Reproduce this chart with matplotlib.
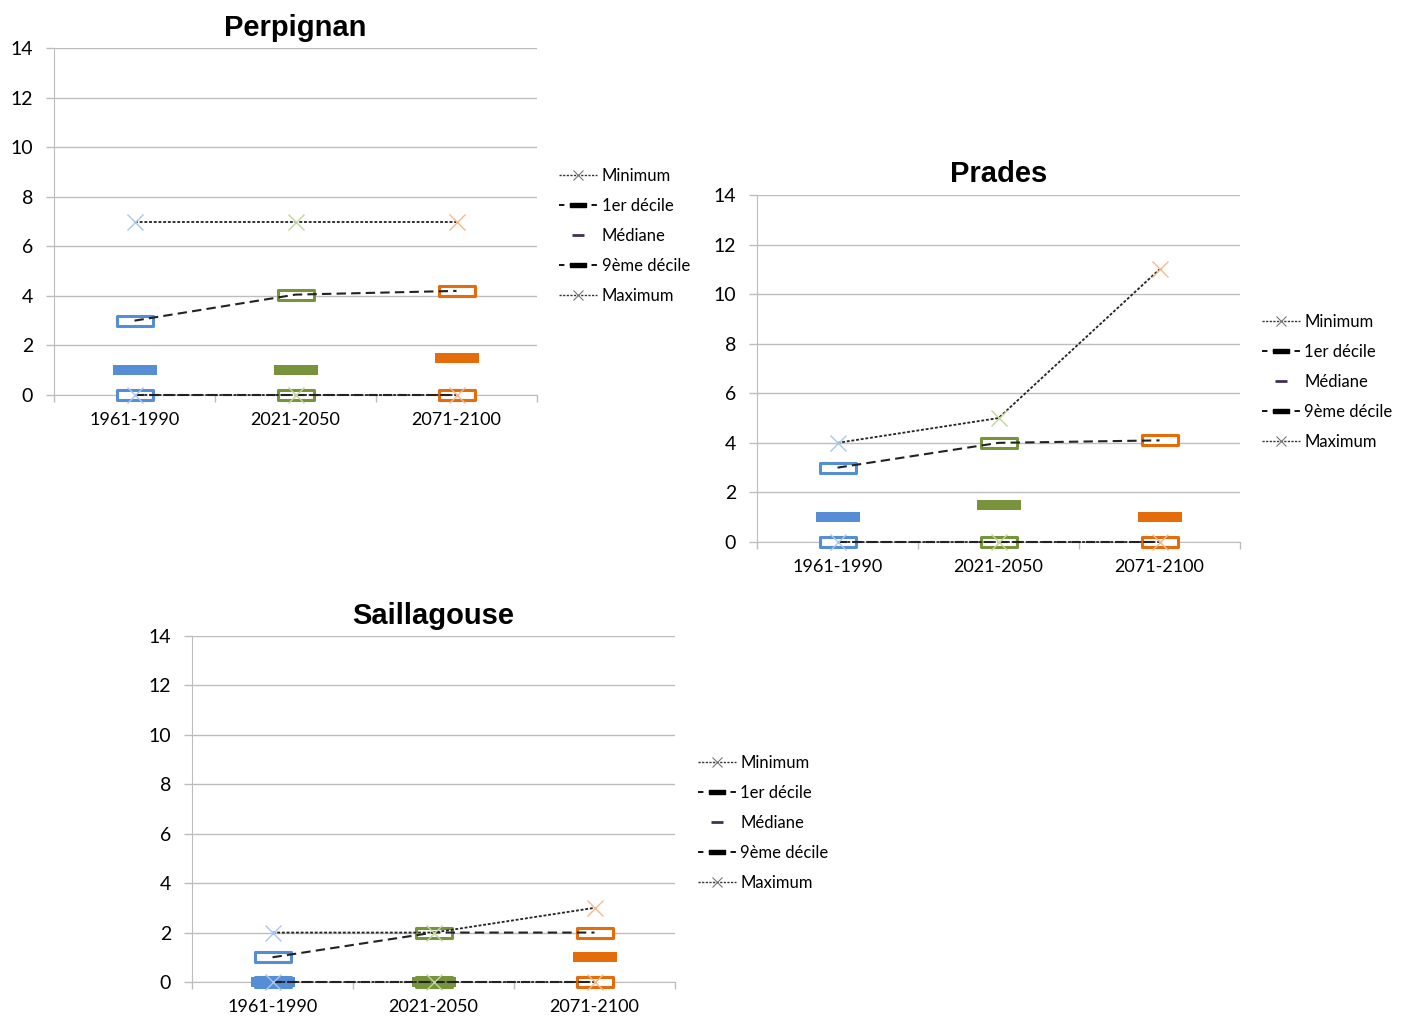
import numpy as np
from matplotlib import pyplot as plt
from matplotlib.path import Path
from matplotlib.lines import Line2D

periods = ["1961-1990", "2021-2050", "2071-2100"]

perpignan_min = [0, 0, 0]
perpignan_d1 = [0, 0, 0]
perpignan_med = [1, 1, 1.5]
perpignan_d9 = [3, 4.05, 4.2]
perpignan_max = [7, 7, 7]

prades_min = [0, 0, 0]
prades_d1 = [0, 0, 0]
prades_med = [1, 1.5, 1]
prades_d9 = [3, 4, 4.1]
prades_max = [4, 5, 11]

saillagouse_min = [0, 0, 0]
saillagouse_d1 = [0, 0, 0]
saillagouse_med = [0, 0, 1]
saillagouse_d9 = [1, 2, 2]
saillagouse_max = [2, 2, 3]

yticks = [0, 2, 4, 6, 8, 10, 12, 14]
legend_labels = ["Minimum", "1er décile", "Médiane", "9ème décile", "Maximum"]

COLORS = ["#558ED5", "#77933C", "#E46C0A"]
LIGHT = ["#A9C7EE", "#C3D69B", "#F7B98B"]
GRID = "#BDBDBD"
FONT = "Lato"

W, H = 1406, 1019


def rect(ratio):
    return Path([(-1, -ratio), (1, -ratio), (1, ratio), (-1, ratio), (-1, -ratio)],
                [Path.MOVETO, Path.LINETO, Path.LINETO, Path.LINETO, Path.CLOSEPOLY])


BOX = rect(0.25)
BAR = rect(0.21)

DOT = (0, (1.6, 1.0))
DASH = (0, (4.5, 2.5))


def hollow(ax, i, y, z):
    ax.plot(i, y, marker=BOX, ms=26.5, mfc="white", mec=COLORS[i], mew=2.2,
            ls="none", zorder=z, clip_on=False)


def panel(fig, box, title, mn, d1, med, d9, mx, leg_xy):
    x0, y0, x1, y1 = box
    ax = fig.add_axes([x0 / W, 1 - y1 / H, (x1 - x0) / W, (y1 - y0) / H])
    x = np.arange(len(periods))

    # markers per period, one colour per period, in series order
    for i in x:
        hollow(ax, i, d1[i], 3.0)
        ax.plot(i, med[i], marker=BAR, ms=32, color=COLORS[i], mew=0, ls="none",
                zorder=3.1, clip_on=False)
        hollow(ax, i, d9[i], 3.2)
        for s in (mn, mx):
            ax.plot(i, s[i], marker="x", ms=11, mec=LIGHT[i], mew=1, ls="none",
                    zorder=5, clip_on=False)

    # connecting lines
    ax.plot(x, mn, ls=DOT, color="#222222", lw=1.3, zorder=4, clip_on=False)
    ax.plot(x, d1, ls=DASH, color="#222222", lw=1.5, zorder=4, clip_on=False)
    ax.plot(x, d9, ls=DASH, color="#222222", lw=1.5, zorder=4, clip_on=False)
    ax.plot(x, mx, ls=DOT, color="#222222", lw=1.3, zorder=4, clip_on=False)

    ax.set_xlim(-0.5, 2.5)
    ax.set_ylim(0, 14)
    ax.set_yticks(yticks)
    ax.set_xticks(x)
    ax.set_xticklabels(periods, family=FONT, fontsize=13)
    ax.set_xticks([-0.5, 0.5, 1.5, 2.5], minor=True)
    ax.tick_params(axis="x", which="major", length=0, pad=12)
    ax.tick_params(axis="x", which="minor", length=5, color=GRID, width=1)
    ax.tick_params(axis="y", length=6, color=GRID, width=1, pad=9, labelsize=14)
    for lab in ax.get_yticklabels():
        lab.set_family(FONT)
    ax.grid(axis="y", color=GRID, lw=1)
    ax.set_axisbelow(True)
    for k in ("top", "right"):
        ax.spines[k].set_visible(False)
    for k in ("left", "bottom"):
        ax.spines[k].set_color(GRID)
    ax.set_title(title, fontsize=21, fontweight="bold", family="Liberation Sans", pad=9)

    handles = [
        Line2D([], [], ls=DOT, color="#333333", lw=1, marker="x", ms=7, mec="#777777", mew=0.8),
        Line2D([], [], ls=(0, (3, 3)), color="black", lw=1.3, marker=BOX, ms=11, mfc="black", mec="black"),
        Line2D([], [], ls="none", marker="_", ms=9, mew=2, color="#403152"),
        Line2D([], [], ls=(0, (3, 3)), color="black", lw=1.3, marker=BOX, ms=11, mfc="black", mec="black"),
        Line2D([], [], ls=DOT, color="#333333", lw=1, marker="x", ms=7, mec="#777777", mew=0.8),
    ]
    fig.legend(handles, legend_labels, loc="upper left",
               bbox_to_anchor=(leg_xy[0] / W, 1 - leg_xy[1] / H),
               frameon=False, borderpad=0, borderaxespad=0, handlelength=2.3,
               handletextpad=0.25, labelspacing=0.84, numpoints=1,
               prop={"family": FONT, "size": 12})


fig = plt.figure(figsize=(W / 100, H / 100), dpi=100)

panel(fig, (54, 48, 537, 395), "Perpignan", perpignan_min, perpignan_d1,
      perpignan_med, perpignan_d9, perpignan_max, (559, 168))
panel(fig, (757, 195, 1240, 542), "Prades", prades_min, prades_d1,
      prades_med, prades_d9, prades_max, (1262, 314))
panel(fig, (192, 636, 675, 982), "Saillagouse", saillagouse_min, saillagouse_d1,
      saillagouse_med, saillagouse_d9, saillagouse_max, (698, 755))

fig.savefig("out.png", dpi=100)
